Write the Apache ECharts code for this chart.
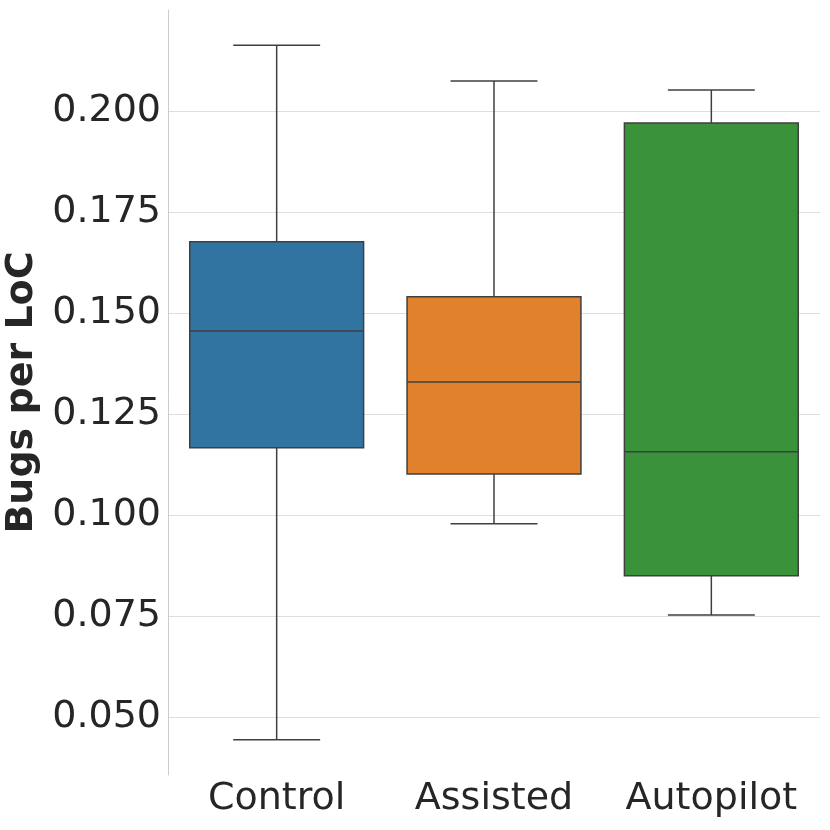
<!DOCTYPE html>
<html>
<head>
<meta charset="utf-8">
<script src="https://cdn.jsdelivr.net/npm/echarts@6/dist/echarts.min.js"></script>
<style>html,body{margin:0;padding:0;background:#fff;}#c{width:830px;height:830px;}</style>
</head>
<body>
<div id="c"></div>
<script>
var categories = ['Control', 'Assisted', 'Autopilot'];
var whiskerLow = [0.0443, 0.0978, 0.0752];
var q1 = [0.1166, 0.1101, 0.0849];
var median = [0.1455, 0.1329, 0.1156];
var q3 = [0.1676, 0.1540, 0.1970];
var whiskerHigh = [0.2163, 0.2074, 0.2052];
var boxColors = ['#3274a1', '#e1812c', '#3a923a'];
var yTicks = [0.050, 0.075, 0.100, 0.125, 0.150, 0.175, 0.200];

var data = categories.map(function (c, i) {
  return [i, whiskerLow[i], q1[i], median[i], q3[i], whiskerHigh[i]];
});

var chart = echarts.init(document.getElementById('c'), null, {renderer: 'canvas'});
var edge = '#3f3f3f';
chart.setOption({
  animation: false,
  backgroundColor: '#ffffff',
  grid: {left: 168, right: 10, top: 10, bottom: 55, containLabel: false, outerBoundsMode: 'none'},
  xAxis: {
    type: 'category',
    data: categories,
    axisLine: {show: false},
    axisTick: {show: false},
    splitLine: {show: false},
    axisLabel: {fontFamily: 'DejaVu Sans', fontSize: 38, color: '#262626', margin: 5, interval: 0, hideOverlap: false}
  },
  yAxis: {
    type: 'value',
    min: 0.0356,
    max: 0.225,
    axisLine: {show: true, lineStyle: {color: '#cccccc', width: 1}},
    axisTick: {show: false, customValues: yTicks},
    splitLine: {show: true, lineStyle: {color: '#dedede', width: 1}},
    axisLabel: {
      customValues: yTicks,
      fontFamily: 'DejaVu Sans', fontSize: 38, color: '#262626', margin: 7,
      padding: [4, 0, 0, 0],
      formatter: function (v) { return v.toFixed(3); }
    },
    name: 'Bugs per LoC',
    nameLocation: 'middle',
    nameRotate: 90,
    nameGap: 117,
    nameTextStyle: {fontFamily: 'DejaVu Sans', fontSize: 38, fontWeight: 'bold', color: '#262626'}
  },
  series: [{
    type: 'custom',
    data: data,
    encode: {x: 0, y: [1, 2, 3, 4, 5]},
    renderItem: function (params, api) {
      var idx = api.value(0);
      var band = api.size([1, 0])[0];
      var bw = band * 0.8;
      var cw = bw * 0.5;
      var lo = api.coord([idx, api.value(1)]);
      var b1 = api.coord([idx, api.value(2)]);
      var md = api.coord([idx, api.value(3)]);
      var b3 = api.coord([idx, api.value(4)]);
      var hi = api.coord([idx, api.value(5)]);
      var x = lo[0];
      var ls = {stroke: edge, lineWidth: 1.5};
      return {
        type: 'group',
        children: [
          {type: 'line', shape: {x1: x, y1: b3[1], x2: x, y2: hi[1]}, style: ls},
          {type: 'line', shape: {x1: x, y1: b1[1], x2: x, y2: lo[1]}, style: ls},
          {type: 'line', shape: {x1: x - cw / 2, y1: hi[1], x2: x + cw / 2, y2: hi[1]}, style: ls},
          {type: 'line', shape: {x1: x - cw / 2, y1: lo[1], x2: x + cw / 2, y2: lo[1]}, style: ls},
          {type: 'rect', shape: {x: x - bw / 2, y: b3[1], width: bw, height: b1[1] - b3[1]},
            style: {fill: boxColors[idx], stroke: edge, lineWidth: 1.5}},
          {type: 'line', shape: {x1: x - bw / 2, y1: md[1], x2: x + bw / 2, y2: md[1]}, style: ls}
        ]
      };
    }
  }]
});
</script>
</body>
</html>
